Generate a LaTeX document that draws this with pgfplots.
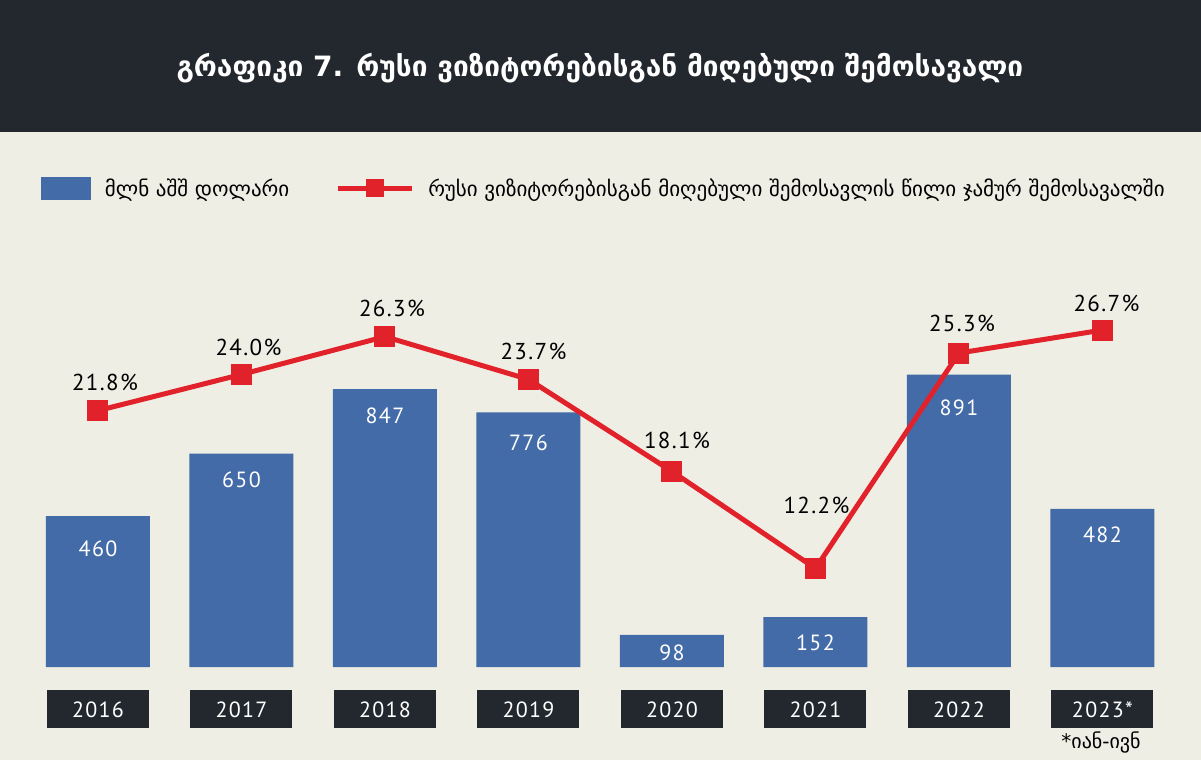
\documentclass[border=0pt]{standalone}
\usepackage{pgfplots}
\pgfplotsset{compat=1.18}
\usepackage{pgfplotstable}
\usepackage{fontspec}
\setmainfont{DejaVu Sans}
\newfontfamily\numfont{PT Sans}[LetterSpace=6]
\definecolor{bg}{HTML}{EEEEE4}
\definecolor{hdr}{HTML}{23272E}
\definecolor{barblue}{HTML}{426BA8}
\definecolor{linered}{HTML}{E2222A}

\pgfplotstableread{
x val dy
0 460 -33
1 650 -26
2 847 -27
3 776 -30
4 98 -17.7
5 152 -25.4
6 891 -33
7 482 -26
}\bars

\pgfplotstableread{
x p dy dx
0 21.8 28 7
1 24.0 27 7
2 26.3 28 7
3 23.7 28 5
4 18.1 31 5
5 12.2 63 1
6 25.3 30 3
7 26.7 27 4
}\share

\begin{document}
\begin{tikzpicture}
\fill[bg] (0pt,0pt) rectangle (1201pt,760pt);
\fill[hdr] (0pt,628pt) rectangle (1201pt,760pt);
\node[text=white, font=\fontsize{28}{33}\selectfont\bfseries] at (600pt,692pt) {გრაფიკი 7. რუსი ვიზიტორებისგან მიღებული შემოსავალი};

\begin{axis}[
  at={(26.25pt,93pt)}, anchor=south west,
  scale only axis, width=1148pt, height=525.1pt,
  xmin=-0.5, xmax=7.5, ymin=0, ymax=1600,
  enlargelimits=false, clip=false,
  axis line style={draw=none}, major tick style={draw=none},
  ytick=\empty,
  xtick={0,1,2,3,4,5,6,7},
  xticklabels={2016,2017,2018,2019,2020,2021,2022,2023*},
  xticklabel style={font=\numfont\fontsize{22}{26}\selectfont, text=white, fill=hdr,
    minimum width=102pt, minimum height=38pt, inner sep=0pt, anchor=north, yshift=-19pt},
  ybar, bar width=104pt,
  legend columns=2,
  legend style={at={(0.0128,0.912)}, anchor=west, draw=none, fill=none,
    inner sep=0pt, outer sep=0pt, nodes={inner sep=0pt},
    font=\fontsize{21}{25}\selectfont,
    /tikz/every odd column/.style={column sep=14pt},
    /tikz/every even column/.style={column sep=46pt}},
]
\addplot[fill=barblue, draw=none,
  legend image code/.code={\fill[barblue] (0pt,-11.5pt) rectangle (50pt,11.5pt);},
  nodes near coords={\pgfmathprintnumber[assume math mode=true]{\pgfplotspointmeta}},
  visualization depends on={\thisrow{dy} \as \dy},
  every node near coord/.append style={font=\numfont\fontsize{22}{26}\selectfont, text=white, anchor=center, yshift=\dy pt},
] table[x=x, y=val] {\bars};
\addlegendentry{მლნ აშშ დოლარი}
\addlegendimage{legend image code/.code={\draw[linered, line width=5pt] (0pt,0pt) -- (74pt,0pt); \fill[linered] (28.5pt,-8.5pt) rectangle (45.5pt,8.5pt);}}
\addlegendentry{რუსი ვიზიტორებისგან მიღებული შემოსავლის წილი ჯამურ შემოსავალში}
\end{axis}

\begin{axis}[
  at={(26.25pt,93pt)}, anchor=south west,
  scale only axis, width=1148pt, height=525.1pt,
  xmin=-0.5, xmax=7.5, ymin=6.2044, ymax=38.145,
  enlargelimits=false, clip=false, hide axis,
]
\addplot[linered, line width=5pt, mark=square*, mark size=8pt, mark options={solid, fill=linered, draw=none},
  nodes near coords={\pgfmathprintnumber[fixed, fixed zerofill, precision=1, assume math mode=true]{\pgfplotspointmeta}\%},
  visualization depends on={\thisrow{dy} \as \dy},
  visualization depends on={\thisrow{dx} \as \dx},
  every node near coord/.append style={font=\numfont\fontsize{23}{27}\selectfont, text=black, anchor=center, yshift=\dy pt, xshift=\dx pt},
] table[x=x, y=p] {\share};
\end{axis}

\node[font=\fontsize{20}{24}\selectfont] at (1101pt,17pt) {*იან-ივნ};
\pgfresetboundingbox
\path[use as bounding box] (0pt,0pt) rectangle (1201pt,760pt);
\end{tikzpicture}
\end{document}
